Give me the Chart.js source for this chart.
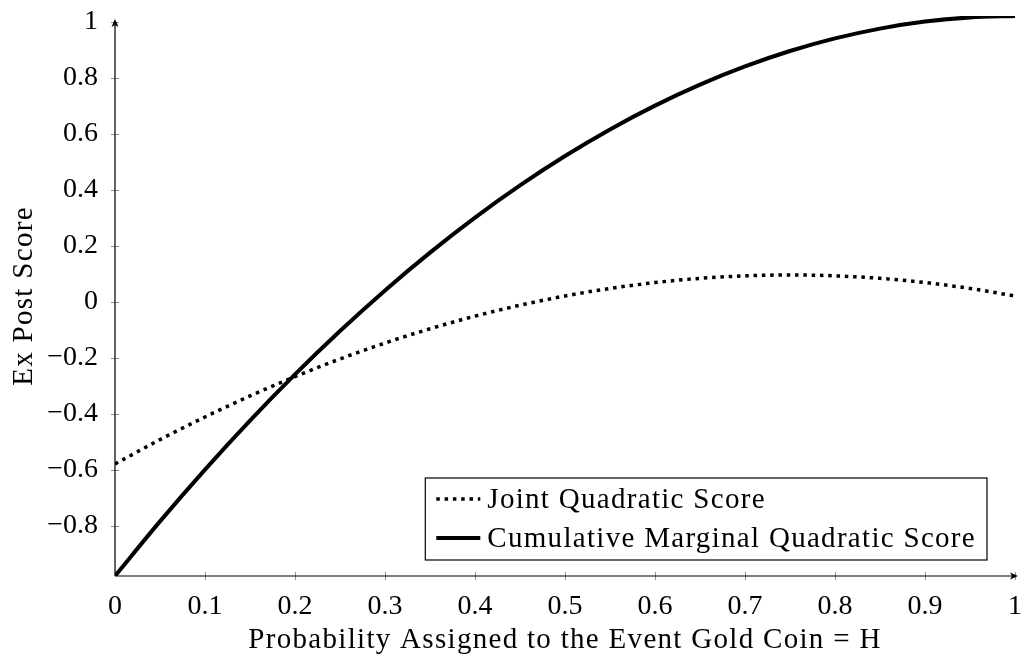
<!DOCTYPE html>
<html>
<head>
<meta charset="utf-8">
<script src="https://cdn.jsdelivr.net/npm/chart.js@4.4.1/dist/chart.umd.min.js"></script>
<style>
  html, body { margin: 0; padding: 0; background: #fff; }
  #wrap { width: 1022px; height: 654px; position: relative; }
</style>
</head>
<body>
<div id="wrap"><canvas id="chart"></canvas></div>
<script>
// du lieu doc tu hinh
const probs = [0, 0.05, 0.1, 0.15, 0.2, 0.25, 0.3, 0.35, 0.4, 0.45, 0.5,
               0.55, 0.6, 0.65, 0.7, 0.75, 0.8, 0.85, 0.9, 0.95, 1];
const jointScore = [-0.58, -0.493, -0.412, -0.337, -0.268, -0.205, -0.148, -0.097, -0.052, -0.013, 0.02,
                    0.047, 0.068, 0.083, 0.092, 0.095, 0.092, 0.083, 0.068, 0.047, 0.02];
const cumulativeScore = [-0.98, -0.785, -0.6, -0.425, -0.26, -0.105, 0.04, 0.175, 0.3, 0.415, 0.52,
                         0.615, 0.7, 0.775, 0.84, 0.895, 0.94, 0.975, 1.0, 1.015, 1.02];
const xTicks = [0, 0.1, 0.2, 0.3, 0.4, 0.5, 0.6, 0.7, 0.8, 0.9, 1];
const yTicks = [-0.8, -0.6, -0.4, -0.2, 0, 0.2, 0.4, 0.6, 0.8, 1];
const seriesNames = ['Joint Quadratic Score', 'Cumulative Marginal Quadratic Score'];
const xTitle = 'Probability Assigned to the Event Gold Coin = H';
const yTitle = 'Ex Post Score';

const FONT = '"Liberation Serif", "Times New Roman", serif';
const TICK_SIZE = 28;
const TEXT_SIZE = 29;
const SPACING = '1.3px';

function fmt(v) {
    const s = String(Math.round(v * 10) / 10);
    return s.replace('-', '\u2212');
}

// ve truc co mui ten va vach chia
const axisPlugin = {
    id: 'axisArrows',
    afterDraw(chart) {
        const c = chart.ctx;
        const a = chart.chartArea;
        const xs = chart.scales.x, ys = chart.scales.y;
        c.save();
        // vach chia
        c.strokeStyle = '#8a8a8a';
        c.lineWidth = 1;
        c.beginPath();
        xTicks.forEach(t => {
            if (t === 0) return;
            const px = Math.round(xs.getPixelForValue(t)) + 0.5;
            c.moveTo(px, a.bottom - 4);
            c.lineTo(px, a.bottom + 4);
        });
        yTicks.forEach(t => {
            const py = Math.round(ys.getPixelForValue(t)) + 0.5;
            c.moveTo(a.left - 4, py);
            c.lineTo(a.left + 4, py);
        });
        c.stroke();

        c.strokeStyle = '#000';
        c.fillStyle = '#000';
        c.lineWidth = 1.2;
        c.beginPath();
        c.moveTo(a.left, a.bottom);
        c.lineTo(a.right + 1, a.bottom);
        c.moveTo(a.left, a.bottom);
        c.lineTo(a.left, a.top + 5);
        c.stroke();
        // mui ten phai
        c.beginPath();
        c.moveTo(a.right + 3, a.bottom);
        c.lineTo(a.right - 5, a.bottom - 3.5);
        c.lineTo(a.right - 3, a.bottom);
        c.lineTo(a.right - 5, a.bottom + 3.5);
        c.closePath();
        c.fill();
        // mui ten tren
        c.beginPath();
        c.moveTo(a.left, a.top + 3);
        c.lineTo(a.left - 3.5, a.top + 11);
        c.lineTo(a.left, a.top + 9);
        c.lineTo(a.left + 3.5, a.top + 11);
        c.closePath();
        c.fill();
        c.restore();
    }
};

// tieu de truc va chu thich
const textPlugin = {
    id: 'boxLegend',
    afterDraw(chart) {
        const c = chart.ctx;
        const a = chart.chartArea;
        c.save();
        c.font = TEXT_SIZE + 'px ' + FONT;
        c.letterSpacing = SPACING;
        c.fillStyle = '#000';

        // tieu de truc x
        c.textAlign = 'center';
        c.textBaseline = 'alphabetic';
        c.fillText(xTitle, (a.left + a.right) / 2, 648);
        // tieu de truc y
        c.save();
        c.translate(32, (a.top + a.bottom) / 2);
        c.rotate(-Math.PI / 2);
        c.fillText(yTitle, 0, 0);
        c.restore();

        // chu thich
        c.textAlign = 'left';
        const sets = chart.data.datasets;
        let maxW = 0;
        sets.forEach(d => { maxW = Math.max(maxW, c.measureText(d.label).width); });
        const w = 63 + maxW + 10;
        const h = 82;
        const right = a.right - 28;
        const bottom = a.bottom - 16;
        const left = right - w;
        const top = bottom - h;
        c.fillStyle = '#fff';
        c.fillRect(left, top, w, h);
        c.strokeStyle = '#000';
        c.lineWidth = 1.2;
        c.strokeRect(left, top, w, h);
        sets.forEach((d, i) => {
            const cy = top + 21 + i * 39;
            c.beginPath();
            c.strokeStyle = d.borderColor;
            c.lineWidth = d.borderWidth;
            c.setLineDash(d.borderDash || []);
            c.moveTo(left + 11, cy);
            c.lineTo(left + 55, cy);
            c.stroke();
            c.setLineDash([]);
            c.fillStyle = '#000';
            c.textBaseline = 'alphabetic';
            c.fillText(d.label, left + 62, cy + 9);
        });
        c.restore();
    }
};

const ctx = document.getElementById('chart').getContext('2d');
const chart = new Chart(ctx, {
    type: 'line',
    data: {
        datasets: [
            {
                label: seriesNames[0],
                data: probs.map((p, i) => ({ x: p, y: jointScore[i] })),
                borderColor: '#000',
                borderWidth: 3.5,
                borderDash: [3.5, 4.8],
                borderCapStyle: 'butt',
                cubicInterpolationMode: 'monotone',
                pointRadius: 0,
                fill: false
            },
            {
                label: seriesNames[1],
                data: probs.map((p, i) => ({ x: p, y: cumulativeScore[i] })),
                borderColor: '#000',
                borderWidth: 4,
                cubicInterpolationMode: 'monotone',
                pointRadius: 0,
                fill: false
            }
        ]
    },
    options: {
        responsive: true,
        maintainAspectRatio: false,
        animation: false,
        layout: { padding: { top: 16, right: 7, left: 0, bottom: 0 } },
        scales: {
            x: {
                type: 'linear',
                min: 0,
                max: 1,
                afterBuildTicks: s => { s.ticks = xTicks.map(v => ({ value: v })); },
                afterFit: s => {
                    s.height = 78;
                    s.paddingLeft = 0; s.paddingRight = 0;
                },
                grid: { display: false, drawTicks: false },
                border: { display: false },
                ticks: {
                    padding: 14,
                    color: '#000',
                    font: { family: FONT, size: TICK_SIZE },
                    callback: v => fmt(v)
                }
            },
            y: {
                type: 'linear',
                min: -0.98,
                max: 1.02,
                afterBuildTicks: s => { s.ticks = yTicks.map(v => ({ value: v })); },
                afterFit: s => {
                    s.width = 115;
                    s.paddingTop = 0; s.paddingBottom = 0;
                },
                grid: { display: false, drawTicks: false },
                border: { display: false },
                ticks: {
                    padding: 17,
                    color: '#000',
                    font: { family: FONT, size: TICK_SIZE },
                    callback: v => fmt(v)
                }
            }
        },
        plugins: {
            legend: { display: false },
            tooltip: { enabled: false }
        }
    },
    plugins: [axisPlugin, textPlugin]
});
</script>
</body>
</html>
